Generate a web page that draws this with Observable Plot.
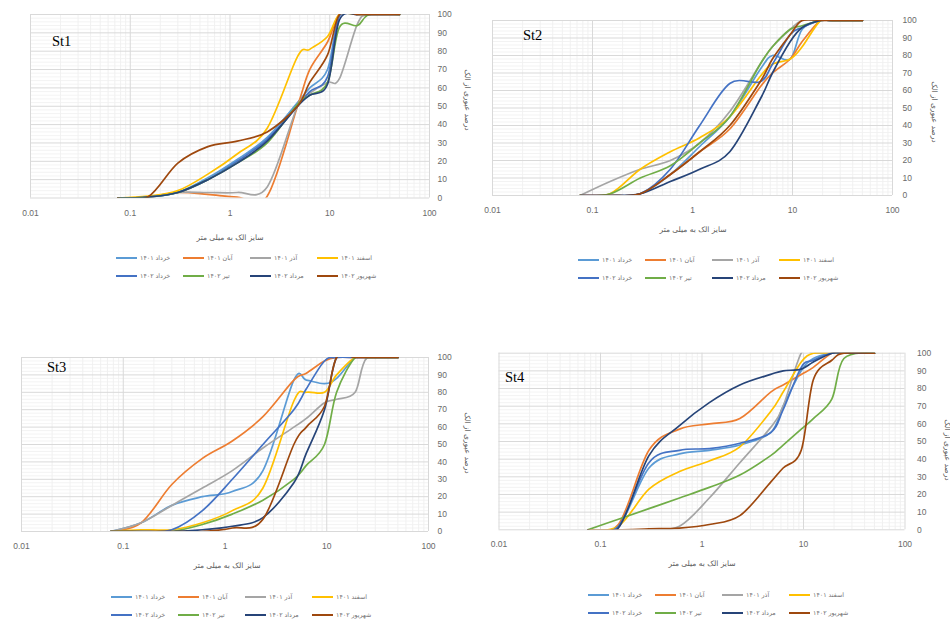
<!DOCTYPE html>
<html><head><meta charset="utf-8">
<script src="https://cdn.jsdelivr.net/npm/d3@7"></script>
<script src="https://cdn.jsdelivr.net/npm/@observablehq/plot@0.6"></script>
<style>
html,body{margin:0;padding:0;background:#fff}
body{width:950px;height:620px;position:relative;overflow:hidden;font-family:"Liberation Sans",Arial,sans-serif}
.pl{position:absolute}
.st{position:absolute;font-family:"Liberation Serif","DejaVu Serif",serif;font-size:14.5px;color:#000}
.xt{position:absolute;font-family:"DejaVu Sans",sans-serif;font-size:7.5px;color:#595959;transform:translate(-50%,-50%);white-space:nowrap}
.yt{position:absolute;font-family:"DejaVu Sans",sans-serif;font-size:7.5px;color:#595959;transform:translate(-50%,-50%) rotate(90deg);white-space:nowrap}
.lg{position:absolute;display:grid;grid-template-columns:repeat(4,67px);row-gap:9px;transform:translate(-50%,0);font-family:"DejaVu Sans",sans-serif;font-size:6.3px;color:#707070}
.it{display:flex;align-items:center;height:9px;white-space:nowrap}
.sw{display:inline-block;width:21px;height:2px;margin-right:3px}
</style></head><body>
<script>
// sieve sizes (mm)
const sieves = [0.075, 0.15, 0.3, 0.6, 1.18, 2.36, 4.75, 6.3, 9.5, 12.5, 19, 25, 50];
const seriesNames = ["خرداد ۱۴۰۱","آبان ۱۴۰۱","آذر ۱۴۰۱","اسفند ۱۴۰۱","خرداد ۱۴۰۲","تیر ۱۴۰۲","مرداد ۱۴۰۲","شهریور ۱۴۰۲"];
const seriesColors = ["#5B9BD5","#ED7D31","#A5A5A5","#FFC000","#4472C4","#70AD47","#264478","#9E480E"];
const xTicks = [0.01, 0.1, 1, 10, 100];
const xTickLabels = ["0.01","0.1","1","10","100"];
const yTicks = [0,10,20,30,40,50,60,70,80,90,100];
const panelLabels = ["St1","St2","St3","St4"];
const xTitle = "سایز الک به میلی متر";
const yTitle = "درصد عبوری از الک";

// percent passing, one row per series (order of seriesNames), one column per sieve
const st1Values = [
  [0, 0.5, 3, 11, 21, 33, 52, 60, 70, 100, 100, 100, 100],
  [0, 0.5, 3, 2, 0.5, 1, 50, 70, 85, 100, 100, 100, 100],
  [0, 0.5, 3, 3, 3, 6, 50, 57, 63, 65, 95, 100, 100],
  [0, 1, 4, 13, 24, 38, 77, 81, 88, 100, 100, 100, 100],
  [0, 0.5, 3, 10, 20, 32, 50, 58, 66, 99, 100, 100, 100],
  [0, 0.5, 3, 10, 19, 30, 51, 56, 63, 93, 94, 100, 100],
  [0, 0.5, 3, 10, 19, 31, 50, 56, 62, 97, 100, 100, 100],
  [0, 0.5, 19, 28, 31, 36, 50, 63, 78, 100, 100, 100, 100]
];
const st2Values = [
  [0, 0, 1, 12, 28, 45, 72, 80, 78, 95, 100, 100, 100],
  [0, 0, 1, 12, 25, 38, 62, 70, 78, 88, 100, 100, 100],
  [0, 8, 15, 20, 30, 48, 75, 85, 95, 100, 100, 100, 100],
  [0, 1, 15, 25, 33, 45, 68, 75, 78, 85, 100, 100, 100],
  [0, 0, 1, 15, 40, 64, 65, 75, 92, 96, 100, 100, 100],
  [0, 1, 10, 17, 30, 45, 75, 85, 95, 97, 100, 100, 100],
  [0, 0, 1, 8, 15, 25, 55, 70, 88, 96, 100, 100, 100],
  [0, 0, 1, 12, 25, 40, 65, 78, 92, 100, 100, 100, 100]
];
const st3Values = [
  [0, 5, 15, 20, 23, 35, 87, 87, 85, 88, 100, 100, 100],
  [0, 5, 27, 42, 52, 66, 87, 91, 98, 100, 100, 100, 100],
  [0, 5, 15, 25, 35, 48, 60, 65, 74, 76, 80, 100, 100],
  [0, 1, 1, 5, 12, 25, 75, 80, 80, 90, 100, 100, 100],
  [0, 0, 1, 12, 30, 50, 70, 82, 98, 100, 100, 100, 100],
  [0, 0, 0, 4, 10, 18, 30, 38, 50, 80, 100, 100, 100],
  [0, 0, 0, 1, 3, 8, 28, 45, 70, 100, 100, 100, 100],
  [0, 0, 0, 0, 2, 7, 50, 60, 72, 100, 100, 100, 100]
];
const st4Values = [
  [0, 2, 35, 43, 45, 48, 55, 70, 90, 97, 100, 100, 100],
  [0, 3, 45, 57, 60, 63, 78, 82, 88, 92, 100, 100, 100],
  [0, 0, 0, 2, 18, 38, 58, 70, 100, 100, 100, 100, 100],
  [0, 2, 23, 33, 39, 47, 67, 78, 95, 100, 100, 100, 100],
  [0, 2, 38, 45, 46, 49, 55, 68, 92, 96, 100, 100, 100],
  [0, 6, 12, 18, 24, 31, 42, 48, 57, 63, 74, 97, 100],
  [0, 1, 42, 59, 72, 82, 88, 90, 91, 95, 100, 100, 100],
  [0, 0, 0.5, 1, 3, 8, 27, 35, 45, 85, 96, 100, 100]
];

const minorX = [];
for (const d of [0.01, 0.1, 1, 10]) for (let k = 2; k <= 9; k++) minorX.push(d * k);
const minorY = d3.range(0, 101, 2).filter(v => v % 10 !== 0);

const layout = [
  {vals: st1Values, left: 0,   top: 0,   W: 475, H: 230, ml: 30,   mr: 46,   mt: 14,   mb: 32.5, xp: 12, yp: 8,
   xt: [230, 237], yt: [467, 100], lg: [250, 253], st: [52, 33]},
  {vals: st2Values, left: 475, top: 0,   W: 475, H: 230, ml: 17,   mr: 58,   mt: 20,   mb: 35,   xp: 11, yp: 10,
   xt: [693, 229], yt: [934, 112], lg: [712, 255], st: [523, 27]},
  {vals: st3Values, left: 0,   top: 310, W: 475, H: 240, ml: 21,   mr: 47,   mt: 47,   mb: 19,   xp: 11, yp: 9,
   xt: [227, 565], yt: [467, 443], lg: [245, 592], st: [47, 359]},
  {vals: st4Values, left: 475, top: 310, W: 475, H: 240, ml: 23.5, mr: 45.5, mt: 42.7, mb: 20.7, xp: 11, yp: 12,
   xt: [702, 563], yt: [947, 450], lg: [722, 590], st: [505, 369]}
];

function add(el) { document.body.appendChild(el); return el; }

layout.forEach((p, pi) => {
  const data = [];
  p.vals.forEach((row, i) => row.forEach((v, j) => data.push({size: sieves[j], pct: v, series: seriesNames[i]})));
  const chart = Plot.plot({
    width: p.W, height: p.H,
    marginLeft: p.ml, marginRight: p.mr, marginTop: p.mt, marginBottom: p.mb,
    style: {background: "transparent", fontFamily: "'Liberation Sans', Arial, sans-serif", fontSize: "8.5px", color: "#6a6a6a", overflow: "visible"},
    x: {type: "log", domain: [0.01, 100], ticks: xTicks, tickFormat: d => xTickLabels[xTicks.indexOf(d)], tickSize: 0, tickPadding: p.xp, label: null},
    y: {domain: [0, 100], axis: "right", ticks: yTicks, tickSize: 0, tickPadding: p.yp, label: null},
    color: {domain: seriesNames, range: seriesColors},
    marks: [
      Plot.ruleX(minorX, {stroke: "#ededed", strokeWidth: 0.8}),
      Plot.ruleY(minorY, {stroke: "#f0f0f0", strokeWidth: 0.8}),
      Plot.ruleX(xTicks, {stroke: "#d9d9d9", strokeWidth: 1}),
      Plot.ruleY(yTicks, {stroke: "#d9d9d9", strokeWidth: 1}),
      Plot.line(data, {x: "size", y: "pct", z: "series", stroke: "series", strokeWidth: 1.7, curve: "cardinal", clip: true})
    ]
  });
  chart.classList.add("pl");
  chart.style.left = p.left + "px";
  chart.style.top = p.top + "px";
  add(chart);

  const st = add(document.createElement("div"));
  st.className = "st"; st.textContent = panelLabels[pi];
  st.style.left = p.st[0] + "px"; st.style.top = p.st[1] + "px";

  const xt = add(document.createElement("div"));
  xt.className = "xt"; xt.dir = "rtl"; xt.textContent = xTitle;
  xt.style.left = p.xt[0] + "px"; xt.style.top = p.xt[1] + "px";

  const yt = add(document.createElement("div"));
  yt.className = "yt"; yt.dir = "rtl"; yt.textContent = yTitle;
  yt.style.left = p.yt[0] + "px"; yt.style.top = p.yt[1] + "px";

  const lg = add(document.createElement("div"));
  lg.className = "lg";
  lg.style.left = p.lg[0] + "px"; lg.style.top = p.lg[1] + "px";
  seriesNames.forEach((name, i) => {
    const it = document.createElement("div"); it.className = "it";
    const sw = document.createElement("span"); sw.className = "sw"; sw.style.background = seriesColors[i];
    const tx = document.createElement("span"); tx.dir = "rtl"; tx.textContent = name;
    it.appendChild(sw); it.appendChild(tx); lg.appendChild(it);
  });
});
</script>
</body></html>
